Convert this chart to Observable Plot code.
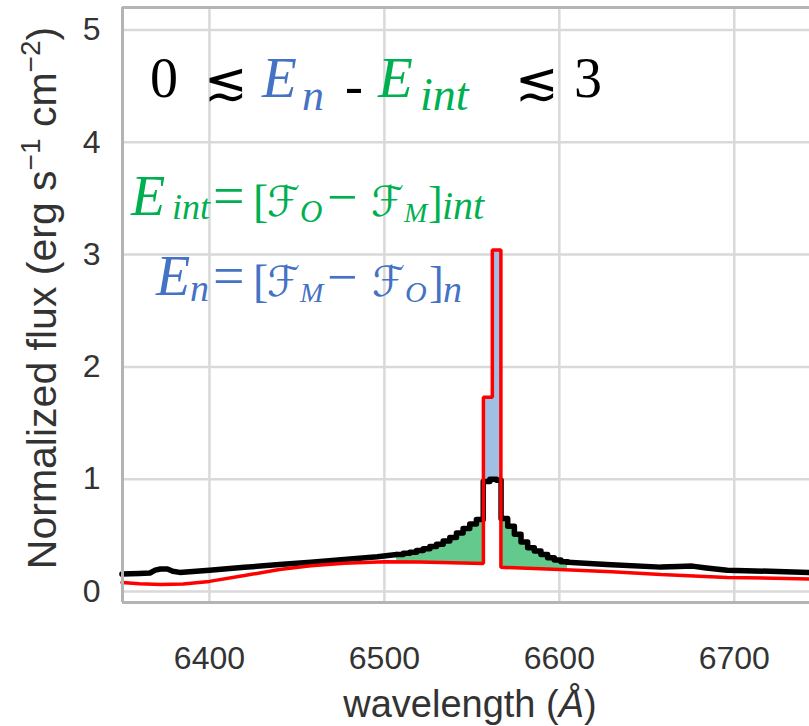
<!DOCTYPE html>
<html><head><meta charset="utf-8">
<script src="https://cdn.jsdelivr.net/npm/d3@7"></script>
<script src="https://cdn.jsdelivr.net/npm/@observablehq/plot@0.6"></script>
<style>body{margin:0;background:#fff} #chart{width:809px;height:726px;overflow:hidden}</style>
</head><body><div id="chart"></div>
<script>
// ---------- data ----------
const xTicks = [6400, 6500, 6600, 6700];
const yTicks = [0, 1, 2, 3, 4, 5];

// observed spectrum (black), blue wing
const obsLeftWl   = [6350, 6360, 6366, 6369, 6372, 6376, 6379, 6383, 6400, 6420, 6440, 6458, 6477, 6496, 6507];
const obsLeftFlux = [0.155, 0.16, 0.165, 0.19, 0.2, 0.2, 0.18, 0.17, 0.19, 0.215, 0.24, 0.26, 0.285, 0.31, 0.33];
// observed spectrum, binned core (bin start wavelengths; last entry is the final bin edge)
const obsCoreWl   = [6507.0, 6510.8, 6514.6, 6518.4, 6522.2, 6526.0, 6529.8, 6533.6, 6537.4, 6541.2, 6545.0, 6548.8, 6552.6,
                     6556.5, 6560.3, 6564.1,
                     6566.7, 6570.5, 6574.3, 6578.1, 6581.9, 6585.7, 6589.5, 6593.3, 6597.1, 6600.9, 6604.7];
const obsCoreFlux = [0.33, 0.34, 0.35, 0.365, 0.38, 0.40, 0.42, 0.45, 0.48, 0.52, 0.56, 0.60, 0.64,
                     0.98, 1.00, 0.99,
                     0.65, 0.58, 0.51, 0.44, 0.39, 0.36, 0.33, 0.30, 0.28, 0.265, 0.26];
// model (red) read below each observed core bin
const modelAtCore = [0.264, 0.263, 0.262, 0.261, 0.260, 0.259, 0.258, 0.257, 0.256, 0.255, 0.253, 0.252, 0.251,
                     0.25, 1.73, 3.04,
                     0.215, 0.213, 0.211, 0.209, 0.207, 0.205, 0.203, 0.201, 0.199, 0.197, 0.194];
// observed spectrum, red wing
const obsRightWl   = [6604.7, 6627, 6658, 6668, 6676, 6684, 6696, 6743];
const obsRightFlux = [0.26, 0.24, 0.217, 0.222, 0.226, 0.21, 0.19, 0.17];

// model spectrum (red)
const modelWl   = [6350, 6360, 6372, 6385, 6400, 6420, 6440, 6458, 6477, 6500, 6520, 6556.6, 6556.6, 6561.7, 6561.7, 6566.6, 6566.6, 6600, 6630, 6658, 6696, 6743];
const modelFlux = [0.08, 0.07, 0.062, 0.066, 0.09, 0.142, 0.195, 0.23, 0.252, 0.265, 0.262, 0.25, 1.73, 1.73, 3.04, 3.04, 0.215, 0.195, 0.175, 0.152, 0.125, 0.112];

// model excess over observed in the line core (blue)
const spikeWl     = [6556.6, 6561.7, 6566.6];
const spikeTop    = [1.73, 3.04, 3.04];
const spikeBottom = [0.99, 1.00, 1.00];

// ---------- tables ----------
const zip = (xs, ys) => xs.map((x, i) => ({x, y: ys[i]}));
const obsLeft = zip(obsLeftWl, obsLeftFlux);
const obsRight = zip(obsRightWl, obsRightFlux);
const obsCore = obsCoreWl.map((x, i) => ({x, y: obsCoreFlux[i], m: modelAtCore[i]}));
const model = zip(modelWl, modelFlux);
const spike = spikeWl.map((x, i) => ({x, lo: spikeBottom[i], hi: spikeTop[i]}));

const GREEN_FILL = "#63c98c", BLUE_FILL = "#a0bfe2";
const GRID = "#d9d9d9", FRAME = "#b4b4b4";

const plot = Plot.plot({
  width: 809, height: 726,
  marginLeft: 122, marginRight: 0, marginTop: 7, marginBottom: 124,
  x: {domain: [6350.3, 6743], label: null},
  y: {domain: [-0.098, 5.2], label: null},
  style: {fontFamily: "'Liberation Sans', Arial, sans-serif", fontSize: "32px", color: "#333", background: "#fff"},
  marks: [
    Plot.gridX(xTicks, {stroke: GRID, strokeOpacity: 1, strokeWidth: 2.5}),
    Plot.gridY(yTicks, {stroke: GRID, strokeOpacity: 1, strokeWidth: 2.5}),
    Plot.areaY(obsCore, {filter: d => d.x <= 6556.5, x: "x", y1: "m", y2: "y", curve: "step-after", fill: GREEN_FILL}),
    Plot.areaY(obsCore, {filter: d => d.x >= 6566.7, x: "x", y1: "m", y2: "y", curve: "step-after", fill: GREEN_FILL}),
    Plot.areaY(spike, {x: "x", y1: "lo", y2: "hi", curve: "step-after", fill: BLUE_FILL}),
    Plot.line(obsLeft, {x: "x", y: "y", stroke: "#000", strokeWidth: 5.5}),
    Plot.line(obsCore, {x: "x", y: "y", curve: "step-after", stroke: "#000", strokeWidth: 5.5}),
    Plot.line(obsRight, {x: "x", y: "y", stroke: "#000", strokeWidth: 5.5}),
    Plot.line(model, {x: "x", y: "y", stroke: "#ff0000", strokeWidth: 3.5, strokeLinejoin: "miter"}),
    Plot.ruleX([6350.3], {stroke: FRAME, strokeWidth: 3}),
    Plot.ruleY([-0.098, 5.2], {stroke: FRAME, strokeWidth: 3}),
    Plot.axisX(xTicks, {tickSize: 0, tickPadding: 44, label: null, fill: "#333", tickFormat: d => String(d)}),
    Plot.axisY(yTicks, {tickSize: 0, tickPadding: 22, label: null, fill: "#333", tickFormat: d => String(d)})
  ]
});
document.getElementById("chart").append(plot);

// ---------- text annotations ----------
const svg = d3.select(plot);
const g = svg.append("g").attr("text-anchor", "start");
function put(x, y, str, o = {}) {
  g.append("text").attr("x", x).attr("y", y)
    .attr("text-anchor", "start")
    .attr("font-family", o.family || "'Liberation Serif', 'DejaVu Serif', serif")
    .attr("font-size", o.size || 50)
    .attr("font-style", o.italic ? "italic" : "normal")
    .attr("font-weight", o.weight || "normal")
    .attr("fill", o.color || "#000")
    .text(str);
}
const BLUE = "#4472c4", GREENT = "#00b050";
const SCRIPT = "'DejaVu Sans', 'DejaVu Serif', sans-serif";
const REL = "'DejaVu Sans', sans-serif";

// top line: 0 ≲ E_n - E_int ≲ 3
put(150, 97, "0", {size: 56});
put(204, 99, "≲", {size: 52, family: REL, weight: 200});
put(262, 97, "E", {size: 57, italic: true, color: BLUE});
put(302, 110, "n", {size: 44, italic: true, color: BLUE});
put(345, 104, "-", {size: 54});
put(378, 97, "E", {size: 57, italic: true, color: GREENT});
put(420, 110, "int", {size: 46, italic: true, color: GREENT});
put(515, 99, "≲", {size: 52, family: REL, weight: 200});
put(574, 97, "3", {size: 56});

// green formula: E_int = [F_O − F_M]_int
put(131, 215, "E", {size: 56, italic: true, color: GREENT});
put(172, 219, "int", {size: 36, italic: true, color: GREENT});
put(213, 215, "=", {size: 56, color: GREENT});
put(253, 217, "[", {size: 46, color: GREENT});
put(267, 216, "ℱ", {size: 42, family: SCRIPT, color: GREENT});
put(300, 222, "O", {size: 31, italic: true, color: GREENT});
put(327, 215, "−", {size: 54, color: GREENT});
put(371, 216, "ℱ", {size: 42, family: SCRIPT, color: GREENT});
put(404, 222, "M", {size: 28, italic: true, color: GREENT});
put(428, 217, "]", {size: 44, color: GREENT});
put(442, 219, "int", {size: 40, italic: true, color: GREENT});

// blue formula: E_n = [F_M − F_O]_n
put(156, 295, "E", {size: 56, italic: true, color: BLUE});
put(190, 301, "n", {size: 38, italic: true, color: BLUE});
put(213, 295, "=", {size: 56, color: BLUE});
put(253, 297, "[", {size: 46, color: BLUE});
put(267, 296, "ℱ", {size: 42, family: SCRIPT, color: BLUE});
put(300, 302, "M", {size: 28, italic: true, color: BLUE});
put(327, 295, "−", {size: 54, color: BLUE});
put(372, 296, "ℱ", {size: 42, family: SCRIPT, color: BLUE});
put(405, 302, "O", {size: 30, italic: true, color: BLUE});
put(429, 297, "]", {size: 44, color: BLUE});
put(443, 302, "n", {size: 38, italic: true, color: BLUE});

// axis titles
const sans = "'Liberation Sans', Arial, sans-serif";
const yl = g.append("text")
  .attr("transform", "translate(56,298) rotate(-90)")
  .attr("text-anchor", "middle").attr("font-family", sans).attr("font-size", 41).attr("fill", "#333");
yl.append("tspan").text("Normalized flux (erg s");
yl.append("tspan").attr("font-size", 28).attr("dy", -16).text("−1");
yl.append("tspan").attr("dy", 16).text(" cm");
yl.append("tspan").attr("font-size", 28).attr("dy", -16).text("−2");
yl.append("tspan").attr("dy", 16).text(")");

const xl = g.append("text")
  .attr("x", 470).attr("y", 717)
  .attr("text-anchor", "middle").attr("font-family", sans).attr("font-size", 38).attr("fill", "#333");
xl.append("tspan").text("wavelength (");
xl.append("tspan").attr("font-style", "italic").text("Å");
xl.append("tspan").text(")");
</script>
</body></html>
